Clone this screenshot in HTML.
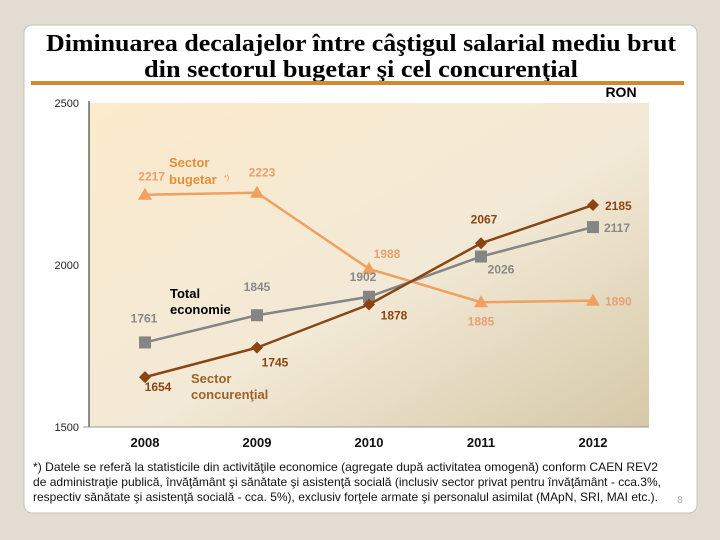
<!DOCTYPE html>
<html><head><meta charset="utf-8"><style>
html,body{margin:0;padding:0;background:#e2dcd2;}
svg{display:block;}
</style></head><body>
<svg width="720" height="540" viewBox="0 0 720 540">
<defs>
<linearGradient id="pg" x1="0" y1="0" x2="1" y2="1">
<stop offset="0" stop-color="#fcebcc"/><stop offset="0.55" stop-color="#f2e9d6"/><stop offset="1" stop-color="#d6c9a8"/>
</linearGradient>
</defs>
<rect x="0" y="0" width="720" height="540" fill="#e2dcd2"/>
<rect x="24" y="25" width="673" height="488" rx="8" fill="#ffffff" stroke="#c8c2b8"/>
<g font-family="'Liberation Serif',serif" font-weight="bold" font-size="24" fill="#000" text-anchor="middle">
<text x="361" y="51" textLength="630" lengthAdjust="spacingAndGlyphs">Diminuarea decalajelor între câştigul salarial mediu brut</text>
<text x="361" y="77" textLength="434" lengthAdjust="spacingAndGlyphs">din sectorul bugetar şi cel concurenţial</text>
</g>
<rect x="31" y="81" width="653" height="4" fill="#d08a2e"/>
<text x="621" y="97" font-family="'Liberation Sans',sans-serif" font-weight="bold" font-size="14" text-anchor="middle">RON</text>
<rect x="89" y="103" width="560" height="324" fill="url(#pg)"/>
<g id="chart"></g>
<g font-family="'Liberation Sans',sans-serif" font-size="12" fill="#111">
<text x="33" y="471" textLength="625" lengthAdjust="spacingAndGlyphs">*) Datele se referă la statisticile din activităţile economice (agregate după activitatea omogenă) conform CAEN REV2</text>
<text x="33" y="486" textLength="628" lengthAdjust="spacingAndGlyphs">de administraţie publică, învăţământ şi sănătate şi asistenţă socială (inclusiv sector privat pentru învăţământ - cca.3%,</text>
<text x="33" y="501" textLength="625" lengthAdjust="spacingAndGlyphs">respectiv sănătate şi asistenţă socială - cca. 5%), exclusiv forţele armate şi personalul asimilat (MApN, SRI, MAI etc.).</text>
<text x="680" y="503" font-size="10" fill="#aaa" text-anchor="middle">8</text>
</g>
</svg>
<script>
const years = ["2008","2009","2010","2011","2012"];
const bugetar = [2217, 2223, 1988, 1885, 1890];
const total = [1761, 1845, 1902, 2026, 2117];
const concurential = [1654, 1745, 1878, 2067, 2185];
const yTicks = [1500, 2000, 2500];

const NS = "http://www.w3.org/2000/svg";
const g = document.getElementById("chart");
const L = 89, R = 649, T = 103, B = 427;
const x = i => L + (R - L) / years.length * (i + 0.5);
const y = v => B - (v - 1500) / 1000 * (B - T);
function mk(tag, attrs, parent) {
  const e = document.createElementNS(NS, tag);
  for (const k in attrs) e.setAttribute(k, attrs[k]);
  (parent || g).appendChild(e);
  return e;
}
function txt(s, ax, ay, attrs) {
  const e = mk("text", Object.assign({x: ax, y: ay, "font-family": "'Liberation Sans',sans-serif", "font-weight": "bold", "font-size": 12}, attrs));
  e.textContent = s;
  return e;
}
const ya = mk("line", {x1: L, y1: T - 2, x2: L, y2: B, stroke: "#222", "stroke-width": 1});


const xa = mk("line", {x1: L - 6, y1: B, x2: R, y2: B, stroke: "#999", "stroke-width": 1});


yTicks.forEach(t => {
  const e = txt(String(t), 79, y(t) + 4, {"font-weight": "normal", "font-size": 11, "text-anchor": "end", fill: "#222"});
  
  
});
years.forEach((yr, i) => {
  const e = txt(yr, x(i), 447, {"font-size": 13, "text-anchor": "middle", fill: "#111"});
  
  
});
function series(vals, color, name, marker) {
  const pts = vals.map((v, i) => x(i) + "," + y(v)).join(" ");
  const pl = mk("polyline", {points: pts, fill: "none", stroke: color, "stroke-width": 2.5});
  
  
  vals.forEach((v, i) => {
    const cx = x(i), cy = y(v);
    let m;
    if (marker === "tri") m = mk("polygon", {points: `${cx},${cy-7} ${cx-7},${cy+5} ${cx+7},${cy+5}`, fill: color});
    else if (marker === "sq") m = mk("rect", {x: cx - 6, y: cy - 6, width: 12, height: 12, fill: color});
    else m = mk("polygon", {points: `${cx},${cy-6} ${cx+6},${cy} ${cx},${cy+6} ${cx-6},${cy}`, fill: color});
    
    
  });
}
series(bugetar, "#f0a060", "sector-bugetar", "tri");
series(total, "#858585", "total-economie", "sq");
series(concurential, "#8b4513", "sector-concurential", "dia");
const bOff = [[20, -14, "end"], [5, -16, "middle"], [18, -11, "middle"], [0, 23, "middle"], [12, 5, "start"]];
const tOff = [[-1, -20, "middle"], [0, -24, "middle"], [-6, -16, "middle"], [20, 17, "middle"], [11, 5, "start"]];
const cOff = [[13, 14, "middle"], [18, 19, "middle"], [25, 15, "middle"], [3, -20, "middle"], [12, 5, "start"]];
bugetar.forEach((v, i) => {
  const e = txt(String(v), x(i) + bOff[i][0], y(v) + bOff[i][1], {"text-anchor": bOff[i][2], fill: "#e8a070"});
  
  
});
total.forEach((v, i) => {
  const e = txt(String(v), x(i) + tOff[i][0], y(v) + tOff[i][1], {"text-anchor": tOff[i][2], fill: "#888"});
  
  
});
concurential.forEach((v, i) => {
  const e = txt(String(v), x(i) + cOff[i][0], y(v) + cOff[i][1], {"text-anchor": cOff[i][2], fill: "#8b4513"});
  
  
});
const n1 = txt("Sector", 169, 167, {fill: "#e0903a", "font-size": 13});


const n2 = txt("bugetar", 169, 184, {fill: "#e0903a", "font-size": 13});


const n2b = txt("*)", 224, 180, {fill: "#e0903a", "font-size": 7, "font-weight": "normal"});


const n3 = txt("Total", 170, 298, {fill: "#000", "font-size": 13});


const n4 = txt("economie", 170, 314, {fill: "#000", "font-size": 13});


const n5 = txt("Sector", 191, 383, {fill: "#a0622a", "font-size": 13});


const n6 = txt("concurenţial", 191, 399, {fill: "#a0622a", "font-size": 13});


</script>
</body></html>
